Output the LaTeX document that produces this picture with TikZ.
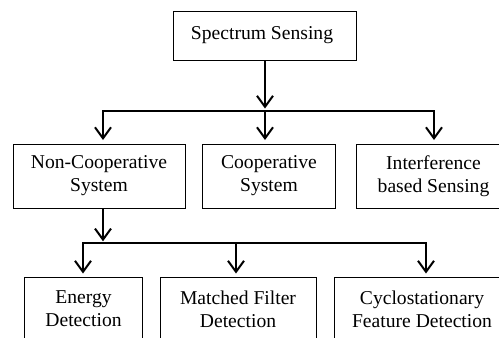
\documentclass[tikz,border=0pt]{standalone}
\usepackage{fontspec}
\setmainfont{Liberation Serif}
\newfontfamily\tnr{Liberation Serif}
\usetikzlibrary{arrows.meta}
\begin{document}
\begin{tikzpicture}[x=1pt,y=-1pt,
  box/.style={draw, line width=1pt, align=center, inner sep=0pt,
    font=\tnr\fontsize{19.6}{23}\selectfont},
  arr/.style={line width=2pt, line join=miter,
    -{Straight Barb[length=11pt,width=16pt,line width=2pt]}}]
\useasboundingbox (0,0) rectangle (499,338);
\clip (0,0) rectangle (499,338);
% level 0
\node[box, minimum width=183.4pt, minimum height=49pt] (ss) at (265,35.5) {\raisebox{3pt}{Spectrum Sensing}\hspace*{6pt}};
% level 1
\node[box, minimum width=172pt, minimum height=64pt] (nc) at (99,176) {Non-Cooperative\\System};
\node[box, minimum width=132.3pt, minimum height=64pt] (co) at (269,176) {Cooperative\\System};
\node[box, minimum width=155pt, minimum height=64pt] (ib) at (433.5,176) {Interference\\based Sensing};
% level 2
\node[box, minimum width=118.4pt, minimum height=64pt] (en) at (83.5,309) {Energy\\Detection};
\node[box, minimum width=156pt, minimum height=64pt] (mf) at (238,309) {Matched Filter\\Detection};
\node[box, minimum width=175.4pt, minimum height=64pt] (cf) at (422,309) {Cyclostationary\\Feature Detection};
% junctions and arrow ends
\coordinate (j1) at (265,110.5);
\coordinate (t1) at (103,140);
\coordinate (t2) at (265,140);
\coordinate (t3) at (434,140);
\coordinate (j2) at (103,243.3);
\coordinate (u1) at (83,273.5);
\coordinate (u2) at (236,273.5);
\coordinate (u3) at (426,273.5);
% connectors
\draw[arr, shorten >=2pt] (ss.south) -- (j1);
\draw[arr] (j1) -| (t1);
\draw[arr] (j1) -- (t2);
\draw[arr] (j1) -| (t3);
\draw[arr, shorten >=2pt] (nc.south -| t1) -- (j2);
\draw[arr] (j2) -| (u1);
\draw[arr] (j2) -| (u2);
\draw[arr] (j2) -| (u3);
\end{tikzpicture}
\end{document}
